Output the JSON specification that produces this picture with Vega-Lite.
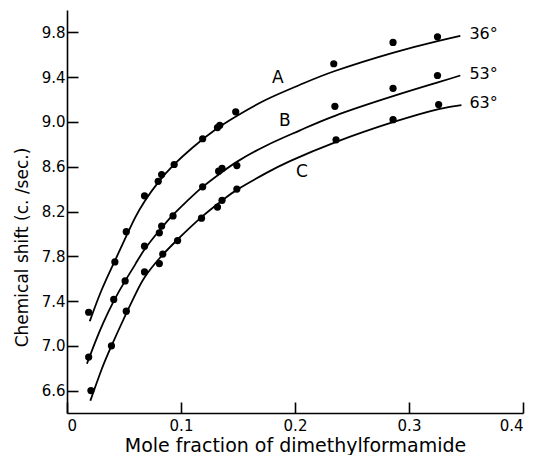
{
  "$schema": "https://vega.github.io/schema/vega-lite/v6.json",
  "autosize": "none",
  "width": 456,
  "height": 403,
  "padding": {"left": 67, "top": 10, "right": 10, "bottom": 42},
  "background": "white",
  "config": {
    "view": {"stroke": null},
    "font": "DejaVu Sans",
    "axis": {
      "domainColor": "black",
      "domainWidth": 1.6,
      "tickColor": "black",
      "tickWidth": 1.6,
      "tickSize": -11,
      "labelColor": "black",
      "titleColor": "black",
      "labelFont": "DejaVu Sans",
      "titleFont": "DejaVu Sans",
      "labelFontSize": 15,
      "titleFontSize": 17,
      "titleFontWeight": "normal",
      "grid": false
    }
  },
  "datasets": {
    "points": [
      {"curve": "A", "x": 0.019, "y": 7.30}, {"curve": "A", "x": 0.042, "y": 7.75}, {"curve": "A", "x": 0.052, "y": 8.02},
      {"curve": "A", "x": 0.068, "y": 8.34}, {"curve": "A", "x": 0.080, "y": 8.47}, {"curve": "A", "x": 0.083, "y": 8.53},
      {"curve": "A", "x": 0.094, "y": 8.62}, {"curve": "A", "x": 0.119, "y": 8.85}, {"curve": "A", "x": 0.132, "y": 8.95},
      {"curve": "A", "x": 0.134, "y": 8.97}, {"curve": "A", "x": 0.148, "y": 9.09}, {"curve": "A", "x": 0.234, "y": 9.52},
      {"curve": "A", "x": 0.286, "y": 9.71}, {"curve": "A", "x": 0.325, "y": 9.76},
      {"curve": "B", "x": 0.019, "y": 6.90}, {"curve": "B", "x": 0.041, "y": 7.415}, {"curve": "B", "x": 0.051, "y": 7.58},
      {"curve": "B", "x": 0.068, "y": 7.89}, {"curve": "B", "x": 0.081, "y": 8.01}, {"curve": "B", "x": 0.083, "y": 8.07},
      {"curve": "B", "x": 0.093, "y": 8.16}, {"curve": "B", "x": 0.119, "y": 8.42}, {"curve": "B", "x": 0.133, "y": 8.56},
      {"curve": "B", "x": 0.136, "y": 8.585}, {"curve": "B", "x": 0.149, "y": 8.61}, {"curve": "B", "x": 0.235, "y": 9.14},
      {"curve": "B", "x": 0.286, "y": 9.30}, {"curve": "B", "x": 0.325, "y": 9.415},
      {"curve": "C", "x": 0.021, "y": 6.60}, {"curve": "C", "x": 0.039, "y": 7.00}, {"curve": "C", "x": 0.052, "y": 7.31},
      {"curve": "C", "x": 0.068, "y": 7.66}, {"curve": "C", "x": 0.081, "y": 7.735}, {"curve": "C", "x": 0.084, "y": 7.82},
      {"curve": "C", "x": 0.097, "y": 7.94}, {"curve": "C", "x": 0.118, "y": 8.14}, {"curve": "C", "x": 0.132, "y": 8.24},
      {"curve": "C", "x": 0.136, "y": 8.30}, {"curve": "C", "x": 0.149, "y": 8.40}, {"curve": "C", "x": 0.236, "y": 8.84},
      {"curve": "C", "x": 0.286, "y": 9.02}, {"curve": "C", "x": 0.326, "y": 9.155}
    ],
    "curves": [
      {"curve": "A", "x": 0.020, "y": 7.22}, {"curve": "A", "x": 0.030, "y": 7.49}, {"curve": "A", "x": 0.042, "y": 7.76},
      {"curve": "A", "x": 0.052, "y": 7.98}, {"curve": "A", "x": 0.060, "y": 8.15}, {"curve": "A", "x": 0.068, "y": 8.29},
      {"curve": "A", "x": 0.080, "y": 8.46}, {"curve": "A", "x": 0.094, "y": 8.62}, {"curve": "A", "x": 0.110, "y": 8.77},
      {"curve": "A", "x": 0.130, "y": 8.93}, {"curve": "A", "x": 0.150, "y": 9.06}, {"curve": "A", "x": 0.175, "y": 9.20},
      {"curve": "A", "x": 0.204, "y": 9.33}, {"curve": "A", "x": 0.235, "y": 9.455}, {"curve": "A", "x": 0.2865, "y": 9.62},
      {"curve": "A", "x": 0.326, "y": 9.725}, {"curve": "A", "x": 0.345, "y": 9.77},
      {"curve": "B", "x": 0.0175, "y": 6.84}, {"curve": "B", "x": 0.025, "y": 7.04}, {"curve": "B", "x": 0.032, "y": 7.21},
      {"curve": "B", "x": 0.041, "y": 7.40}, {"curve": "B", "x": 0.051, "y": 7.58}, {"curve": "B", "x": 0.060, "y": 7.73},
      {"curve": "B", "x": 0.068, "y": 7.86}, {"curve": "B", "x": 0.081, "y": 8.03}, {"curve": "B", "x": 0.093, "y": 8.17},
      {"curve": "B", "x": 0.105, "y": 8.29}, {"curve": "B", "x": 0.119, "y": 8.42}, {"curve": "B", "x": 0.135, "y": 8.545},
      {"curve": "B", "x": 0.150, "y": 8.65}, {"curve": "B", "x": 0.175, "y": 8.79}, {"curve": "B", "x": 0.2044, "y": 8.925},
      {"curve": "B", "x": 0.235, "y": 9.055}, {"curve": "B", "x": 0.286, "y": 9.23}, {"curve": "B", "x": 0.326, "y": 9.355},
      {"curve": "B", "x": 0.345, "y": 9.415},
      {"curve": "C", "x": 0.0205, "y": 6.51}, {"curve": "C", "x": 0.030, "y": 6.78}, {"curve": "C", "x": 0.039, "y": 7.00},
      {"curve": "C", "x": 0.052, "y": 7.29}, {"curve": "C", "x": 0.060, "y": 7.46}, {"curve": "C", "x": 0.068, "y": 7.61},
      {"curve": "C", "x": 0.081, "y": 7.78}, {"curve": "C", "x": 0.097, "y": 7.95}, {"curve": "C", "x": 0.118, "y": 8.15},
      {"curve": "C", "x": 0.135, "y": 8.29}, {"curve": "C", "x": 0.150, "y": 8.40}, {"curve": "C", "x": 0.175, "y": 8.545},
      {"curve": "C", "x": 0.1956, "y": 8.65}, {"curve": "C", "x": 0.2357, "y": 8.82}, {"curve": "C", "x": 0.2866, "y": 9.00},
      {"curve": "C", "x": 0.326, "y": 9.115}, {"curve": "C", "x": 0.346, "y": 9.15}
    ],
    "letters": [
      {"text": "A", "x": 0.185, "y": 9.39},
      {"text": "B", "x": 0.191, "y": 9.006},
      {"text": "C", "x": 0.206, "y": 8.553}
    ],
    "temps": [
      {"text": "36°", "x": 0.353, "y": 9.788},
      {"text": "53°", "x": 0.353, "y": 9.424},
      {"text": "63°", "x": 0.353, "y": 9.166}
    ]
  },
  "layer": [
    {
      "data": {"name": "curves"},
      "mark": {"type": "line", "color": "black", "strokeWidth": 1.8, "interpolate": "natural"},
      "encoding": {
        "x": {"field": "x", "type": "quantitative", "scale": {"domain": [0, 0.4], "nice": false},
          "axis": {"values": [0, 0.1, 0.2, 0.3, 0.4], "format": ".1~f", "title": "Mole fraction of dimethylformamide", "labelPadding": 16, "titlePadding": 3, "titleFontSize": 19}},
        "y": {"field": "y", "type": "quantitative", "scale": {"domain": [6.4, 10.0], "nice": false, "zero": false},
          "axis": {"values": [6.6, 7.0, 7.4, 7.8, 8.2, 8.6, 9.0, 9.4, 9.8], "format": ".1f", "title": "Chemical shift (c. /sec.)", "labelPadding": 13, "titlePadding": 10, "titleY": 237}},
        "detail": {"field": "curve"}
      }
    },
    {
      "data": {"name": "points"},
      "mark": {"type": "point", "filled": true, "color": "black", "size": 52, "opacity": 1},
      "encoding": {
        "x": {"field": "x", "type": "quantitative"},
        "y": {"field": "y", "type": "quantitative"}
      }
    },
    {
      "data": {"name": "letters"},
      "mark": {"type": "text", "color": "black", "fontSize": 17, "font": "DejaVu Sans", "align": "center", "baseline": "middle"},
      "encoding": {
        "x": {"field": "x", "type": "quantitative"},
        "y": {"field": "y", "type": "quantitative"},
        "text": {"field": "text"}
      }
    },
    {
      "data": {"name": "temps"},
      "mark": {"type": "text", "color": "black", "fontSize": 16, "font": "DejaVu Sans", "align": "left", "baseline": "middle"},
      "encoding": {
        "x": {"field": "x", "type": "quantitative"},
        "y": {"field": "y", "type": "quantitative"},
        "text": {"field": "text"}
      }
    }
  ]
}
